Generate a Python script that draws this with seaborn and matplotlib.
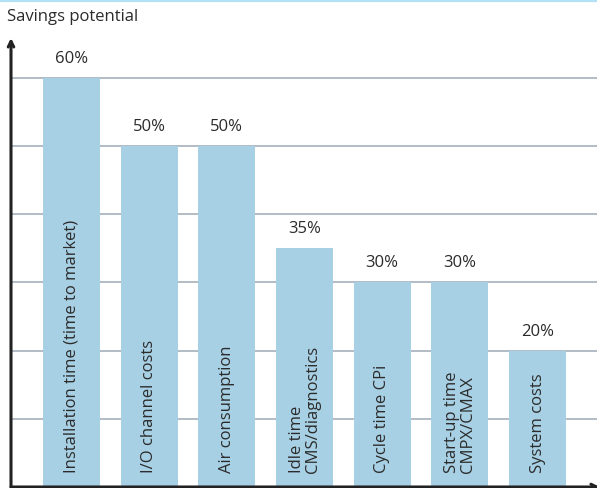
import matplotlib
matplotlib.use("Agg")
import matplotlib.pyplot as plt
from matplotlib.lines import Line2D
import seaborn as sns

categories = ["Installation time (time to market)", "I/O channel costs", "Air consumption",
              "Idle time\nCMS/diagnostics", "Cycle time CPi", "Start-up time\nCMPX/CMAX", "System costs"]
values = [60, 50, 50, 35, 30, 30, 20]
value_labels = ["60%", "50%", "50%", "35%", "30%", "30%", "20%"]
grid_levels = [10, 20, 30, 40, 50, 60]
y_title = "Savings potential"

sns.set_style("white")
plt.rcParams['font.family'] = ['Open Sans', 'DejaVu Sans']

W, H = 597, 488
fig = plt.figure(figsize=(W / 100, H / 100), dpi=100)
ax = fig.add_axes([11 / W, 1 / H, (W - 11) / W, (487 - 38) / H])

bar_color = "#a8d0e4"
txt_color = "#2b2b2b"

sns.barplot(x=list(range(len(values))), y=values, color=bar_color, saturation=1,
            width=0.734, ax=ax, zorder=3, linewidth=0, edgecolor="none")

ax.set_xlim(-0.779, 6.766)
ax.set_ylim(0, 65.8)

for g in grid_levels:
    ax.axhline(g, color="#adb6c0", lw=1.3, zorder=1)

for i, (v, lab, cat) in enumerate(zip(values, value_labels, categories)):
    ax.text(i, v + 1.6, lab, ha="center", va="bottom", fontsize=12, color=txt_color, zorder=5)
    ax.text(i, 2.0, cat, rotation=90, ha="center", va="bottom", multialignment="left",
            fontsize=12, color=txt_color, zorder=5, linespacing=1.0)

for s in ax.spines.values():
    s.set_visible(False)
ax.set_xticks([])
ax.set_yticks([])
ax.set_xlabel("")
ax.set_ylabel("")

# axes with arrows
ax.annotate("", xy=(0, 1.0), xytext=(0, 0), xycoords="axes fraction",
            arrowprops=dict(arrowstyle="->,head_length=0.4,head_width=0.2", lw=2.2, color="#222222",
                            shrinkA=0, shrinkB=0), annotation_clip=False)
ax.annotate("", xy=(1.005, 0), xytext=(0, 0), xycoords="axes fraction",
            arrowprops=dict(arrowstyle="->,head_length=0.4,head_width=0.2", lw=2.2, color="#222222",
                            shrinkA=0, shrinkB=0), annotation_clip=False)

fig.text(7 / W, 1 - 17 / H, y_title, ha="left", va="center", fontsize=12, color=txt_color)
fig.add_artist(Line2D([0, 1], [1 - 0.8 / H, 1 - 0.8 / H], color="#b5e1f6", lw=1.6,
                      transform=fig.transFigure))

fig.savefig("out.png", dpi=100)
